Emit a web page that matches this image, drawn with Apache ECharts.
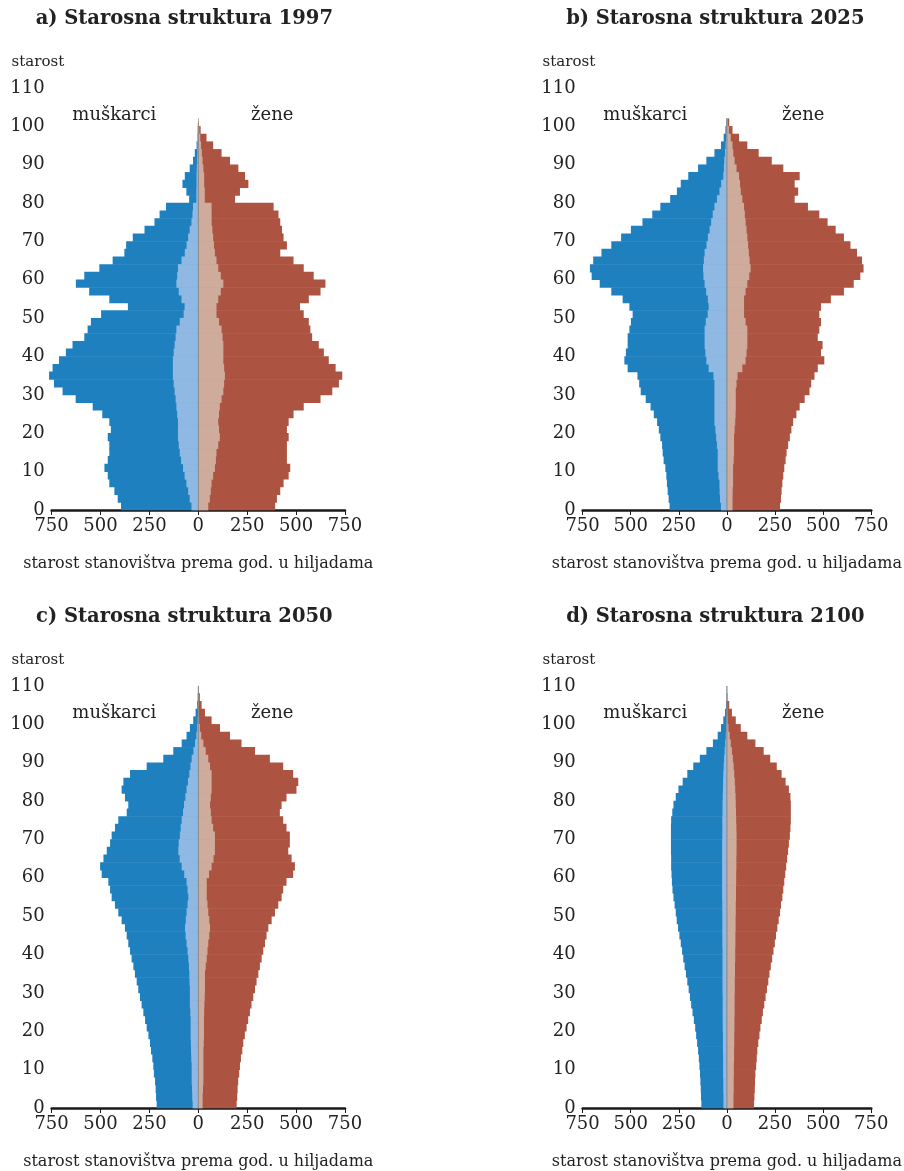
<!DOCTYPE html>
<html>
<head>
<meta charset="utf-8">
<script src="https://cdn.jsdelivr.net/npm/echarts@6/dist/echarts.min.js"></script>
<style>
  html, body { margin: 0; padding: 0; background: #fff; }
  #chart { width: 904px; height: 1171px; }
</style>
</head>
<body>
<div id="chart"></div>
<script>
// starosne grupe (lijeva granica razreda od 2 godine)
var ages = [0, 2, 4, 6, 8, 10, 12, 14, 16, 18, 20, 22, 24, 26, 28, 30, 32, 34, 36, 38, 40,
    42, 44, 46, 48, 50, 52, 54, 56, 58, 60, 62, 64, 66, 68, 70, 72, 74, 76, 78, 80,
    82, 84, 86, 88, 90, 92, 94, 96, 98, 100, 102, 104, 106, 108]

var xTicks = [-750, -500, -250, 0, 250, 500, 750]

// a) 1997, u hiljadama
var men1997 = [395, 412, 429, 455, 463, 480, 463, 455, 455, 463, 447, 455, 491, 540, 627, 694, 738, 763, 745, 712, 677,
    643, 583, 566, 549, 497, 360, 455, 558, 626, 583, 506, 438, 378, 369, 335, 275, 224, 198, 165, 47,
    61, 81, 69, 44, 27, 18, 9, 4, 3, 1, 0, 0, 0, 0]
var menIn1997 = [35, 44, 52, 61, 70, 78, 88, 95, 100, 104, 104, 104, 108, 112, 116, 121, 126, 130, 130, 130, 126,
    121, 116, 112, 95, 75, 70, 86, 100, 112, 108, 104, 86, 69, 60, 52, 44, 35, 30, 27, 10,
    10, 9, 9, 8, 6, 5, 4, 2, 1, 0, 0, 0, 0, 0]
var women1997 = [393, 402, 419, 436, 462, 470, 453, 453, 453, 462, 453, 462, 487, 539, 625, 685, 719, 736, 702, 667, 642,
    616, 582, 573, 565, 539, 520, 565, 625, 650, 590, 539, 487, 419, 453, 436, 428, 419, 410, 385, 188,
    213, 256, 239, 205, 162, 119, 76, 42, 12, 3, 0, 0, 0, 0]
var womenIn1997 = [51, 59, 64, 68, 76, 85, 90, 93, 102, 110, 106, 102, 106, 110, 119, 128, 132, 136, 132, 128, 128,
    128, 124, 119, 106, 93, 93, 102, 115, 128, 115, 102, 93, 85, 80, 76, 72, 68, 68, 68, 33,
    33, 30, 30, 26, 22, 18, 14, 10, 5, 2, 0, 0, 0, 0]

// b) 2025
var men2025 = [298, 303, 308, 312, 315, 320, 329, 334, 337, 346, 354, 363, 380, 397, 422, 448, 456, 465, 516, 533, 525,
    516, 516, 507, 499, 490, 507, 542, 601, 661, 703, 712, 695, 652, 601, 550, 499, 439, 388, 346, 295,
    260, 240, 201, 150, 107, 65, 31, 17, 8, 3, 0, 0, 0, 0]
var menIn2025 = [31, 36, 38, 39, 44, 48, 48, 48, 52, 56, 60, 65, 65, 65, 65, 65, 65, 70, 95, 107, 112,
    116, 116, 116, 110, 100, 95, 99, 108, 116, 122, 124, 120, 116, 106, 99, 90, 82, 74, 65, 52,
    39, 30, 19, 16, 14, 10, 7, 4, 2, 1, 0, 0, 0, 0]
var women2025 = [276, 281, 284, 288, 293, 298, 305, 310, 318, 327, 335, 344, 361, 378, 404, 429, 438, 455, 472, 506, 489,
    497, 472, 480, 489, 480, 489, 540, 608, 659, 693, 710, 702, 676, 642, 608, 565, 523, 480, 421, 352,
    370, 352, 378, 293, 233, 165, 106, 63, 29, 12, 0, 0, 0, 0]
var womenIn2025 = [29, 29, 30, 32, 32, 32, 35, 37, 37, 37, 40, 43, 45, 46, 46, 46, 50, 55, 80, 97, 102,
    106, 106, 106, 97, 89, 89, 89, 97, 106, 116, 123, 118, 114, 110, 106, 102, 97, 93, 89, 80,
    72, 68, 63, 50, 40, 33, 29, 20, 10, 4, 0, 0, 0, 0]

// c) 2050
var men2050 = [213, 216, 218, 221, 227, 230, 235, 242, 247, 255, 264, 272, 281, 290, 298, 307, 315, 324, 332, 341, 349,
    358, 366, 375, 392, 409, 426, 443, 451, 460, 494, 502, 485, 468, 451, 443, 426, 409, 366, 358, 375,
    392, 383, 349, 264, 179, 128, 85, 60, 43, 26, 14, 6, 3, 1]
var menIn2050 = [29, 31, 32, 34, 34, 34, 36, 37, 38, 39, 39, 39, 41, 43, 43, 43, 45, 46, 48, 51, 55,
    60, 65, 68, 64, 60, 55, 51, 55, 60, 72, 85, 95, 102, 100, 94, 90, 85, 78, 73, 66,
    60, 53, 46, 40, 34, 25, 17, 10, 6, 3, 1, 0, 0, 0]
var women2050 = [196, 199, 201, 204, 209, 213, 218, 225, 230, 238, 247, 255, 264, 272, 281, 290, 298, 307, 315, 324, 332,
    341, 349, 358, 375, 392, 409, 426, 434, 451, 485, 494, 477, 460, 468, 468, 451, 434, 417, 426, 451,
    502, 511, 485, 434, 366, 290, 221, 162, 111, 68, 34, 17, 8, 3]
var womenIn2050 = [22, 22, 24, 26, 26, 26, 26, 26, 28, 29, 29, 29, 30, 31, 33, 34, 34, 34, 38, 43, 47,
    51, 56, 60, 56, 51, 47, 43, 43, 43, 55, 68, 78, 85, 85, 85, 76, 68, 64, 60, 64,
    68, 68, 68, 60, 51, 38, 26, 15, 8, 4, 2, 0, 0, 0]

// d) 2100
var men2100 = [133, 135, 136, 138, 140, 143, 146, 150, 155, 160, 165, 172, 179, 186, 192, 199, 206, 213, 220, 227, 233,
    240, 247, 254, 261, 266, 272, 278, 283, 286, 288, 290, 290, 291, 291, 291, 291, 290, 284, 278, 266,
    252, 230, 206, 175, 141, 107, 73, 48, 31, 19, 10, 5, 2, 1]
var menIn2100 = [18, 18, 19, 19, 20, 20, 20, 21, 21, 21, 22, 22, 22, 22, 22, 23, 23, 23, 23, 23, 23,
    24, 24, 24, 24, 24, 24, 25, 25, 25, 25, 25, 25, 25, 25, 24, 24, 24, 23, 23, 22,
    21, 20, 19, 17, 15, 12, 9, 6, 4, 2, 1, 0, 0, 0]
var women2100 = [141, 143, 145, 146, 148, 152, 155, 158, 163, 169, 174, 181, 187, 194, 201, 208, 215, 221, 228, 235, 242,
    249, 255, 262, 269, 276, 281, 288, 293, 298, 303, 308, 313, 318, 322, 327, 330, 332, 332, 332, 330,
    322, 305, 284, 259, 225, 191, 148, 106, 72, 46, 26, 12, 3, 1]
var womenIn2100 = [34, 34, 35, 35, 36, 36, 37, 37, 38, 38, 39, 39, 40, 40, 40, 41, 41, 42, 42, 43, 43,
    44, 44, 45, 45, 46, 46, 47, 47, 48, 48, 49, 49, 50, 50, 50, 49, 48, 47, 46, 45,
    43, 41, 38, 35, 31, 26, 20, 14, 8, 4, 2, 0, 0, 0]

// vrh srednje linije (godine)
var lineTop = [101, 102, 110, 110]

var panels = [
    { title: 'a) Starosna struktura 1997', men: men1997, menIn: menIn1997, women: women1997, womenIn: womenIn1997 },
    { title: 'b) Starosna struktura 2025', men: men2025, menIn: menIn2025, women: women2025, womenIn: womenIn2025 },
    { title: 'c) Starosna struktura 2050', men: men2050, menIn: menIn2050, women: women2050, womenIn: womenIn2050 },
    { title: 'd) Starosna struktura 2100', men: men2100, menIn: menIn2100, women: women2100, womenIn: womenIn2100 },
]

var FONT = 'DejaVu Serif'
var colors = {
    men: '#1f80bf',
    menIn: '#8fb8e2',
    women: '#ad5341',
    womenIn: '#cfab9c',
}

var gridPos = [
    { left: 51.6, top: 88 },
    { left: 582.6, top: 88 },
    { left: 51.6, top: 686 },
    { left: 582.6, top: 686 },
]
var GW = 293.4
var GH = 422

function barItem(sign, color) {
    return function(params, api) {
        var age = api.value(0)
        var v = api.value(1) * sign
        var p0 = api.coord([0, age])
        var p1 = api.coord([v, age + 2])
        var x0 = Math.min(p0[0], p1[0])
        return {
            type: 'rect',
            shape: { x: x0, y: p1[1] - 0.3, width: Math.abs(p1[0] - p0[0]), height: p0[1] - p1[1] + 0.6 },
            style: { fill: color },
        }
    }
}

function pairs(arr) {
    return ages.map(function(a, i) { return [a, arr[i]] })
}

var grid = [], xAxis = [], yAxis = [], series = [], graphic = []

panels.forEach(function(p, k) {
    var g = gridPos[k]
    grid.push({ left: g.left, top: g.top, width: GW, height: GH })
    xAxis.push({
        gridIndex: k,
        type: 'value',
        min: -750,
        max: 750,
        interval: 250,
        splitLine: { show: false },
        axisLine: { onZero: false, lineStyle: { color: '#1a1a1a', width: 2.5 } },
        axisTick: { show: true, length: 5, lineStyle: { color: '#1a1a1a', width: 1 } },
        axisLabel: {
            color: '#222',
            fontFamily: FONT,
            fontSize: 18,
            margin: 7,
            formatter: function(v) { return Math.abs(v) },
        },
        name: 'starost stanovištva prema god. u hiljadama',
        nameLocation: 'middle',
        nameGap: 46,
        nameTextStyle: { color: '#222', fontFamily: FONT, fontSize: 16 },
    })
    yAxis.push({
        gridIndex: k,
        type: 'value',
        min: 0,
        max: 110,
        interval: 10,
        splitLine: { show: false },
        axisLine: { show: false, onZero: false },
        axisTick: { show: false },
        axisLabel: { color: '#222', fontFamily: FONT, fontSize: 18, margin: 7 },
    })
    var sets = [
        ['muškarci', p.men, -1, colors.men],
        ['muškarci (dio)', p.menIn, -1, colors.menIn],
        ['žene', p.women, 1, colors.women],
        ['žene (dio)', p.womenIn, 1, colors.womenIn],
    ]
    sets.forEach(function(s) {
        series.push({
            name: s[0],
            type: 'custom',
            xAxisIndex: k,
            yAxisIndex: k,
            renderItem: barItem(s[2], s[3]),
            encode: { x: 1, y: 0 },
            data: pairs(s[1]),
            silent: true,
        })
    })
    series.push({
        type: 'line',
        xAxisIndex: k,
        yAxisIndex: k,
        data: [[0, 0], [0, lineTop[k]]],
        symbol: 'none',
        lineStyle: { color: '#8a8a8a', width: 1 },
        silent: true,
        z: 5,
    })

    var cx = g.left + GW / 2
    var rowTop = g.top - 88
    graphic.push({
        type: 'text',
        x: cx - 14,
        y: rowTop + 19,
        style: {
            text: p.title,
            font: 'bold 19.5px "DejaVu Serif"',
            fill: '#222',
            align: 'center',
            verticalAlign: 'middle',
            textAlign: 'center',
            textVerticalAlign: 'middle',
        },
    })
    graphic.push({
        type: 'text',
        x: g.left - 40,
        y: rowTop + 62,
        style: {
            text: 'starost',
            font: '15px "DejaVu Serif"',
            fill: '#222',
            align: 'left',
            verticalAlign: 'middle',
            textAlign: 'left',
            textVerticalAlign: 'middle',
        },
    })
    graphic.push({
        type: 'text',
        x: cx - 84,
        y: rowTop + 115,
        style: {
            text: 'muškarci',
            font: '18px "DejaVu Serif"',
            fill: '#222',
            align: 'center',
            verticalAlign: 'middle',
            textAlign: 'center',
            textVerticalAlign: 'middle',
        },
    })
    graphic.push({
        type: 'text',
        x: cx + 74,
        y: rowTop + 115,
        style: {
            text: 'žene',
            font: '18px "DejaVu Serif"',
            fill: '#222',
            align: 'center',
            verticalAlign: 'middle',
            textAlign: 'center',
            textVerticalAlign: 'middle',
        },
    })
})

var chart = echarts.init(document.getElementById('chart'))
chart.setOption({
    animation: false,
    backgroundColor: '#fff',
    grid: grid,
    xAxis: xAxis,
    yAxis: yAxis,
    series: series,
    graphic: graphic,
})
</script>
</body>
</html>
